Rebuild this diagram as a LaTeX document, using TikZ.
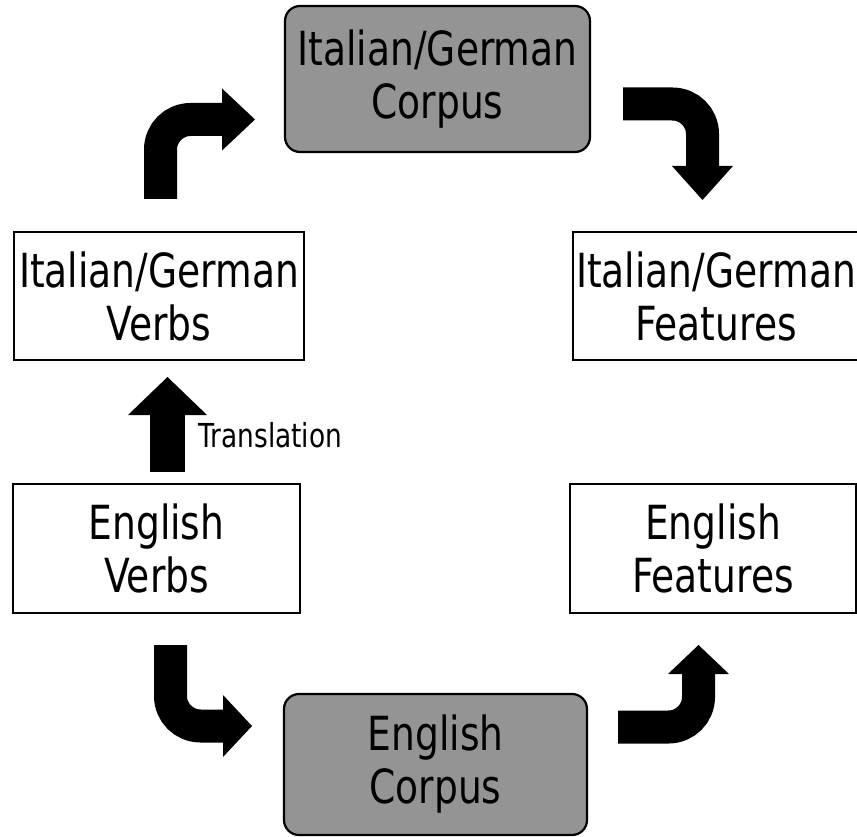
\documentclass[tikz,border=0pt]{standalone}
\usepackage{fontspec}
\setmainfont{DejaVu Sans}[FakeStretch=0.8]
\tikzset{
  box/.style={draw, line width=2.2pt, inner sep=0pt, align=center,
    font=\fontsize{47}{53}\selectfont},
  corpus/.style={box, fill=black!42, rounded corners=15pt},
  turnarrow/.style={line width=33pt, rounded corners=30pt},
}
\begin{document}
\begin{tikzpicture}[x=1pt,y=-1pt]
    \useasboundingbox (0,0) rectangle (857,837);
    % corpora
    \node[corpus, minimum width=305pt, minimum height=146pt] (igcorpus) at (437.5,79) {Italian/German\\Corpus};
    \node[corpus, minimum width=303pt, minimum height=141pt] (encorpus) at (435.5,764.5) {English\\Corpus};
    % verbs and features
    \node[box, minimum width=290pt, minimum height=128pt] (igverbs) at (159,296) {Italian/German\\Verbs};
    \node[box, minimum width=286pt, minimum height=128pt] (igfeat) at (716,296) {Italian/German\\Features};
    \node[box, minimum width=287pt, minimum height=129pt] (enverbs) at (156.5,548.5) {English\\Verbs};
    \node[box, minimum width=286pt, minimum height=129pt] (enfeat) at (713,548.5) {English\\Features};
    % arrows
    \coordinate (a1) at (160.5,199);  \coordinate (h1) at (222,119.5);
    \coordinate (a2) at (623,104);    \coordinate (h2) at (702.5,166);
    \coordinate (a3) at (170.5,645);  \coordinate (h3) at (223,726);
    \coordinate (a4) at (618,727);    \coordinate (h4) at (698.5,674);
    \coordinate (a5) at (167.5,472);  \coordinate (h5) at (167.5,415);
    \scope[fill=black]
    \draw[turnarrow] (a1) |- ([xshift=2pt]h1);
    \fill (h1) ++(0,-31) -- ++(33,31) -- ++(-33,31) -- cycle;
    \draw[turnarrow] (a2) -| ([yshift=-2pt]h2);
    \fill (h2) ++(-30.5,0) -- ++(30.5,34) -- ++(30.5,-34) -- cycle;
    \draw[turnarrow] (a3) |- ([xshift=2pt]h3);
    \fill (h3) ++(0,-31) -- ++(29,31) -- ++(-29,31) -- cycle;
    \draw[turnarrow] (a4) -| ([yshift=2pt]h4);
    \fill (h4) ++(-30.5,0) -- ++(30.5,-29) -- ++(30.5,29) -- cycle;
    \draw[line width=35pt] (a5) -- ([yshift=2pt]h5);
    \fill (h5) ++(-39.5,0) -- ++(39.5,-38) -- ++(39.5,38) -- cycle;
    \endscope
    \node[anchor=west, inner sep=3pt, font=\fontsize{33}{38}\selectfont] (trans) at (195,435) {Translation};
\end{tikzpicture}
\end{document}
